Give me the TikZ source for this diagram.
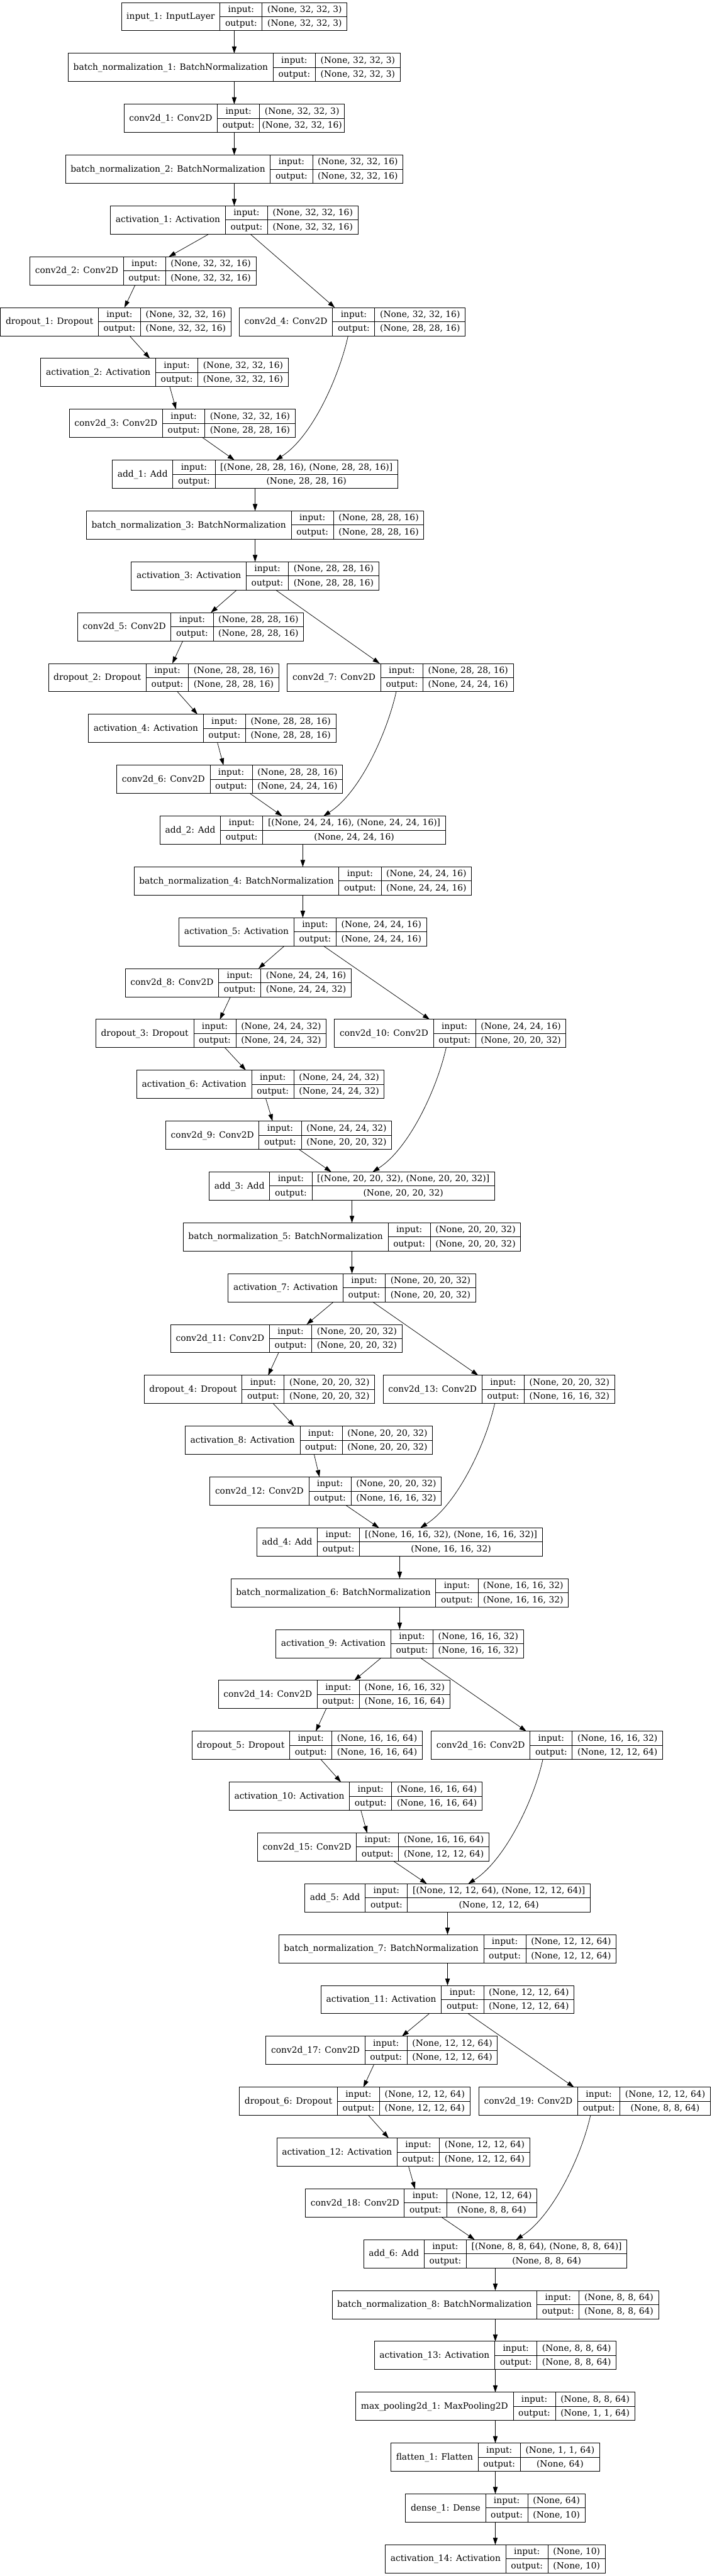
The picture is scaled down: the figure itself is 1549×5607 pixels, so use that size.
\documentclass[tikz,border=0pt]{standalone}
\usepackage{fontspec}
\setmainfont{DejaVu Serif}
\usetikzlibrary{arrows.meta,calc}
\font\dvsfont="DejaVu Serif" at 18.9pt
\newlength\lwA \newlength\lwB \newlength\lwC \newlength\lwT
\tikzset{
  layerbox/.style={draw=black, line width=1.2pt, minimum height=61.5pt, inner sep=0pt, outer sep=0pt},
  cellline/.style={draw=black, line width=1.2pt},
  txt/.style={inner sep=0pt, text height=14pt, text depth=2.5pt, font=\dvsfont},
  arr/.style={draw=black, line width=1pt, -{Triangle[length=15pt,width=10pt]}},
}
% name, center x, rank, label, input shape, output shape
\newcommand\layer[6]{%
  \setbox0=\hbox{\dvsfont #4}\lwA=\wd0 \addtolength\lwA{22.5pt}%
  \setbox0=\hbox{\dvsfont output:}\lwB=\wd0 \addtolength\lwB{22.5pt}%
  \setbox0=\hbox{\dvsfont #5}\lwC=\wd0
  \setbox0=\hbox{\dvsfont #6}\lwT=\wd0
  \ifdim\lwT>\lwC \lwC=\lwT\fi \addtolength\lwC{22.5pt}%
  \pgfmathsetmacro\Ly{5.4+110.67*(#3-1)}%
  \pgfmathsetmacro\Lw{\lwA+\lwB+\lwC}%
  \pgfmathsetmacro\Lx{#2-\Lw/2}%
  \pgfmathsetmacro\Lxa{\Lx+\lwA}%
  \pgfmathsetmacro\Lxb{\Lxa+\lwB}%
  \pgfmathsetmacro\Lxe{\Lx+\Lw}%
  \node[layerbox, minimum width=\Lw pt] (#1) at (#2,\Ly+30.75) {};
  \draw[cellline] (\Lxa,\Ly) -- (\Lxa,\Ly+61.5);
  \draw[cellline] (\Lxb,\Ly) -- (\Lxb,\Ly+61.5);
  \draw[cellline] (\Lxa,\Ly+30.75) -- (\Lxe,\Ly+30.75);
  \node[txt] (#1-lab) at ({(\Lx+\Lxa)/2},\Ly+30.75) {#4};
  \node[txt] (#1-ik) at ({(\Lxa+\Lxb)/2},\Ly+15.4) {input:};
  \node[txt] (#1-ok) at ({(\Lxa+\Lxb)/2},\Ly+46.1) {output:};
  \node[txt] (#1-iv) at ({(\Lxb+\Lxe)/2},\Ly+15.4) {#5};
  \node[txt] (#1-ov) at ({(\Lxb+\Lxe)/2},\Ly+46.1) {#6};
}
% act, conv_a, dropout, conv_skip, act_b, conv_b, add
\newcommand\blockedges[7]{%
  \draw[arr] ($(#1.south)+(\aS,0)$) -- ($(#2.north)+(\aE,0)$);
  \draw[arr] ($(#1.south)+(\sS,0)$) -- ($(#4.north)+(\sE,0)$);
  \draw[arr] ($(#2.south)+(-17,0)$) -- ($(#3.north)+(19,0)$);
  \draw[arr] ($(#3.south)+(30,0)$) -- ($(#5.north)+(-32,0)$);
  \draw[arr] ($(#5.south)+(11.4,0)$) -- ($(#6.north)+(-13.5,0)$);
  \draw[arr] ($(#6.south)+(44,0)$) -- ($(#7.north)+(-45,0)$);
  \draw[arr] ($(#4.south)+(-9,0)$) .. controls +(-20,90) and +(79,-50) .. ($(#7.north)+(45,0)$);
}
\newcommand\chain[2]{\draw[arr] (#1.south) -- (#2.north);}
\begin{document}
\begin{tikzpicture}[x=1pt,y=-1pt]
\useasboundingbox (0,0) rectangle (1549,5607);
\fill[white] (0,0) rectangle (1549,5607);
% head
\layer{in1}{509.8}{1}{input\_1: InputLayer}{(None, 32, 32, 3)}{(None, 32, 32, 3)}
\layer{bn1}{509.8}{2}{batch\_normalization\_1: BatchNormalization}{(None, 32, 32, 3)}{(None, 32, 32, 3)}
\layer{c1}{509.8}{3}{conv2d\_1: Conv2D}{(None, 32, 32, 3)}{(None, 32, 32, 16)}
\layer{bn2}{509.8}{4}{batch\_normalization\_2: BatchNormalization}{(None, 32, 32, 16)}{(None, 32, 32, 16)}
\layer{a1}{509.8}{5}{activation\_1: Activation}{(None, 32, 32, 16)}{(None, 32, 32, 16)}
% block 1
\layer{c2}{311.2}{6}{conv2d\_2: Conv2D}{(None, 32, 32, 16)}{(None, 32, 32, 16)}
\layer{d1}{251.9}{7}{dropout\_1: Dropout}{(None, 32, 32, 16)}{(None, 32, 32, 16)}
\layer{c4}{766.6}{7}{conv2d\_4: Conv2D}{(None, 32, 32, 16)}{(None, 28, 28, 16)}
\layer{a2}{358.1}{8}{activation\_2: Activation}{(None, 32, 32, 16)}{(None, 32, 32, 16)}
\layer{c3}{396.6}{9}{conv2d\_3: Conv2D}{(None, 32, 32, 16)}{(None, 28, 28, 16)}
\layer{add1}{555.2}{10}{add\_1: Add}{[(None, 28, 28, 16), (None, 28, 28, 16)]}{(None, 28, 28, 16)}
\layer{bn3}{555.2}{11}{batch\_normalization\_3: BatchNormalization}{(None, 28, 28, 16)}{(None, 28, 28, 16)}
\layer{a3}{555.2}{12}{activation\_3: Activation}{(None, 28, 28, 16)}{(None, 28, 28, 16)}
% block 2
\layer{c5}{414.9}{13}{conv2d\_5: Conv2D}{(None, 28, 28, 16)}{(None, 28, 28, 16)}
\layer{d2}{356.1}{14}{dropout\_2: Dropout}{(None, 28, 28, 16)}{(None, 28, 28, 16)}
\layer{c7}{871.3}{14}{conv2d\_7: Conv2D}{(None, 28, 28, 16)}{(None, 24, 24, 16)}
\layer{a4}{461.8}{15}{activation\_4: Activation}{(None, 28, 28, 16)}{(None, 28, 28, 16)}
\layer{c6}{499.9}{16}{conv2d\_6: Conv2D}{(None, 28, 28, 16)}{(None, 24, 24, 16)}
\layer{add2}{659}{17}{add\_2: Add}{[(None, 24, 24, 16), (None, 24, 24, 16)]}{(None, 24, 24, 16)}
\layer{bn4}{659}{18}{batch\_normalization\_4: BatchNormalization}{(None, 24, 24, 16)}{(None, 24, 24, 16)}
\layer{a5}{659}{19}{activation\_5: Activation}{(None, 24, 24, 16)}{(None, 24, 24, 16)}
% block 3
\layer{c8}{518.6}{20}{conv2d\_8: Conv2D}{(None, 24, 24, 16)}{(None, 24, 24, 32)}
\layer{d3}{459.4}{21}{dropout\_3: Dropout}{(None, 24, 24, 32)}{(None, 24, 24, 32)}
\layer{c10}{980}{21}{conv2d\_10: Conv2D}{(None, 24, 24, 16)}{(None, 20, 20, 32)}
\layer{a6}{567}{22}{activation\_6: Activation}{(None, 24, 24, 32)}{(None, 24, 24, 32)}
\layer{c9}{606.6}{23}{conv2d\_9: Conv2D}{(None, 24, 24, 32)}{(None, 20, 20, 32)}
\layer{add3}{766}{24}{add\_3: Add}{[(None, 20, 20, 32), (None, 20, 20, 32)]}{(None, 20, 20, 32)}
\layer{bn5}{766}{25}{batch\_normalization\_5: BatchNormalization}{(None, 20, 20, 32)}{(None, 20, 20, 32)}
\layer{a7}{766}{26}{activation\_7: Activation}{(None, 20, 20, 32)}{(None, 20, 20, 32)}
% block 4
\layer{c11}{623.3}{27}{conv2d\_11: Conv2D}{(None, 20, 20, 32)}{(None, 20, 20, 32)}
\layer{d4}{564.6}{28}{dropout\_4: Dropout}{(None, 20, 20, 32)}{(None, 20, 20, 32)}
\layer{c13}{1085.7}{28}{conv2d\_13: Conv2D}{(None, 20, 20, 32)}{(None, 16, 16, 32)}
\layer{a8}{672.2}{29}{activation\_8: Activation}{(None, 20, 20, 32)}{(None, 20, 20, 32)}
\layer{c12}{708.8}{30}{conv2d\_12: Conv2D}{(None, 20, 20, 32)}{(None, 16, 16, 32)}
\layer{add4}{869.8}{31}{add\_4: Add}{[(None, 16, 16, 32), (None, 16, 16, 32)]}{(None, 16, 16, 32)}
\layer{bn6}{869.8}{32}{batch\_normalization\_6: BatchNormalization}{(None, 16, 16, 32)}{(None, 16, 16, 32)}
\layer{a9}{869.8}{33}{activation\_9: Activation}{(None, 16, 16, 32)}{(None, 16, 16, 32)}
% block 5
\layer{c14}{727.1}{34}{conv2d\_14: Conv2D}{(None, 16, 16, 32)}{(None, 16, 16, 64)}
\layer{d5}{668.3}{35}{dropout\_5: Dropout}{(None, 16, 16, 64)}{(None, 16, 16, 64)}
\layer{c16}{1190.4}{35}{conv2d\_16: Conv2D}{(None, 16, 16, 32)}{(None, 12, 12, 64)}
\layer{a10}{774}{36}{activation\_10: Activation}{(None, 16, 16, 64)}{(None, 16, 16, 64)}
\layer{c15}{812.5}{37}{conv2d\_15: Conv2D}{(None, 16, 16, 64)}{(None, 12, 12, 64)}
\layer{add5}{974}{38}{add\_5: Add}{[(None, 12, 12, 64), (None, 12, 12, 64)]}{(None, 12, 12, 64)}
\layer{bn7}{974}{39}{batch\_normalization\_7: BatchNormalization}{(None, 12, 12, 64)}{(None, 12, 12, 64)}
\layer{a11}{974}{40}{activation\_11: Activation}{(None, 12, 12, 64)}{(None, 12, 12, 64)}
% block 6
\layer{c17}{830.8}{41}{conv2d\_17: Conv2D}{(None, 12, 12, 64)}{(None, 12, 12, 64)}
\layer{d6}{772}{42}{dropout\_6: Dropout}{(None, 12, 12, 64)}{(None, 12, 12, 64)}
\layer{c19}{1294.1}{42}{conv2d\_19: Conv2D}{(None, 12, 12, 64)}{(None, 8, 8, 64)}
\layer{a12}{877.7}{43}{activation\_12: Activation}{(None, 12, 12, 64)}{(None, 12, 12, 64)}
\layer{c18}{916.7}{44}{conv2d\_18: Conv2D}{(None, 12, 12, 64)}{(None, 8, 8, 64)}
\layer{add6}{1078}{45}{add\_6: Add}{[(None, 8, 8, 64), (None, 8, 8, 64)]}{(None, 8, 8, 64)}
\layer{bn8}{1078}{46}{batch\_normalization\_8: BatchNormalization}{(None, 8, 8, 64)}{(None, 8, 8, 64)}
\layer{a13}{1078}{47}{activation\_13: Activation}{(None, 8, 8, 64)}{(None, 8, 8, 64)}
\layer{mp1}{1078}{48}{max\_pooling2d\_1: MaxPooling2D}{(None, 8, 8, 64)}{(None, 1, 1, 64)}
\layer{fl1}{1078}{49}{flatten\_1: Flatten}{(None, 1, 1, 64)}{(None, 64)}
\layer{de1}{1078}{50}{dense\_1: Dense}{(None, 64)}{(None, 10)}
\layer{a14}{1078}{51}{activation\_14: Activation}{(None, 10)}{(None, 10)}
% straight chain
\chain{in1}{bn1}\chain{bn1}{c1}\chain{c1}{bn2}\chain{bn2}{a1}
\chain{add1}{bn3}\chain{bn3}{a3}
\chain{add2}{bn4}\chain{bn4}{a5}
\chain{add3}{bn5}\chain{bn5}{a7}
\chain{add4}{bn6}\chain{bn6}{a9}
\chain{add5}{bn7}\chain{bn7}{a11}
\chain{add6}{bn8}\chain{bn8}{a13}\chain{a13}{mp1}\chain{mp1}{fl1}\chain{fl1}{de1}\chain{de1}{a14}
% residual blocks
\def\aS{-55.4}\def\aE{56.3}\def\sS{35}\def\sE{-38}
\blockedges{a1}{c2}{d1}{c4}{a2}{c3}{add1}
\def\aS{-40}\def\aE{44}\def\sS{45}\def\sE{-45}
\blockedges{a3}{c5}{d2}{c7}{a4}{c6}{add2}
\blockedges{a5}{c8}{d3}{c10}{a6}{c9}{add3}
\blockedges{a7}{c11}{d4}{c13}{a8}{c12}{add4}
\blockedges{a9}{c14}{d5}{c16}{a10}{c15}{add5}
\blockedges{a11}{c17}{d6}{c19}{a12}{c18}{add6}
\end{tikzpicture}
\end{document}
